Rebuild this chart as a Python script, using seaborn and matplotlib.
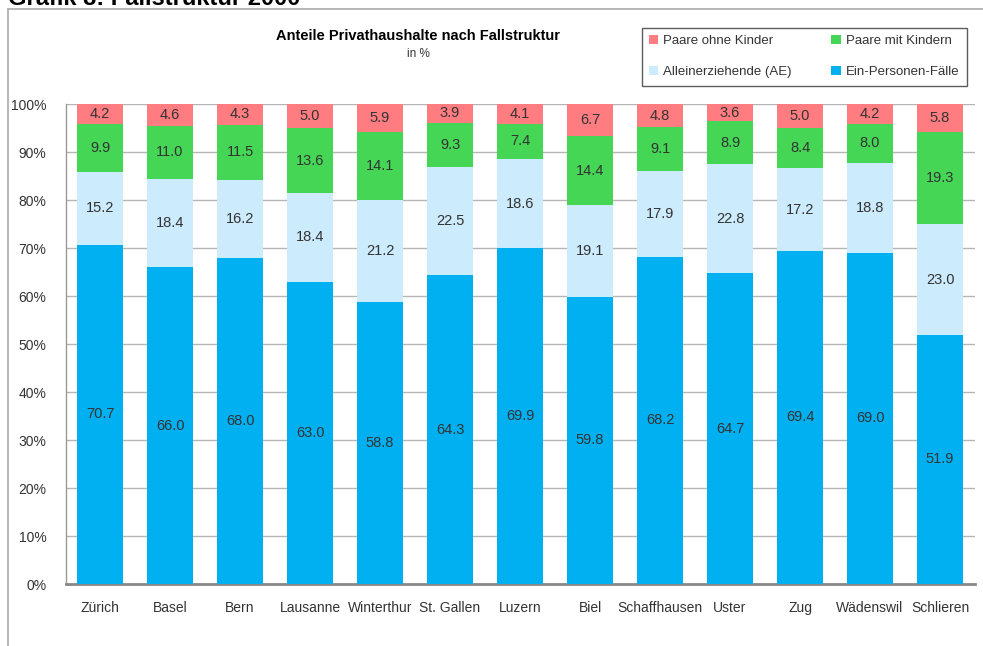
import matplotlib
matplotlib.use("Agg")
import matplotlib.pyplot as plt
import seaborn as sns
import pandas as pd
import numpy as np
from matplotlib.lines import Line2D
from matplotlib.patches import Patch

cities = ["Zürich", "Basel", "Bern", "Lausanne", "Winterthur", "St. Gallen", "Luzern",
          "Biel", "Schaffhausen", "Uster", "Zug", "Wädenswil", "Schlieren"]
ein_personen = [70.7, 66.0, 68.0, 63.0, 58.8, 64.3, 69.9, 59.8, 68.2, 64.7, 69.4, 69.0, 51.9]
alleinerziehende = [15.2, 18.4, 16.2, 18.4, 21.2, 22.5, 18.6, 19.1, 17.9, 22.8, 17.2, 18.8, 23.0]
paare_mit = [9.9, 11.0, 11.5, 13.6, 14.1, 9.3, 7.4, 14.4, 9.1, 8.9, 8.4, 8.0, 19.3]
paare_ohne = [4.2, 4.6, 4.3, 5.0, 5.9, 3.9, 4.1, 6.7, 4.8, 3.6, 5.0, 4.2, 5.8]

series_names = ["Ein-Personen-Fälle", "Alleinerziehende (AE)", "Paare mit Kindern", "Paare ohne Kinder"]
series_vals = [ein_personen, alleinerziehende, paare_mit, paare_ohne]
colors = ["#00B0F0", "#CCEBFD", "#45D655", "#FF7C80"]

sns.set_theme(style="white")
plt.rcParams["font.family"] = ["Liberation Sans", "DejaVu Sans"]

fig = plt.figure(figsize=(9.83, 6.46), dpi=100)
ax = fig.add_axes([66/983, 1-584/646, (975-66)/983, (584-104)/646])

vals = np.array(series_vals)
cum = np.cumsum(vals, axis=0)

# draw from top (largest cumulative) down so lower segments overlay
for k in range(len(series_names)-1, -1, -1):
    df = pd.DataFrame({"Stadt": cities, "Wert": cum[k]})
    sns.barplot(data=df, x="Stadt", y="Wert", color=colors[k], width=0.66,
                saturation=1, ax=ax, zorder=3, edgecolor="none")

for k in range(len(series_names)):
    for i in range(len(cities)):
        ax.text(i, cum[k][i] - vals[k][i]/2, f"{vals[k][i]:.1f}", ha="center", va="center",
                fontsize=10.5, color="#333333", zorder=5)

ax.set_xlim(-0.486, 12.5)
ax.set_ylim(0, 100)
ax.set_yticks(np.arange(0, 101, 10))
ax.set_yticklabels([f"{t}%" for t in range(0, 101, 10)], fontsize=10, color="#333333")
ax.tick_params(axis="y", length=0, pad=14)
ax.tick_params(axis="x", length=0, pad=12, labelsize=10, labelcolor="#333333")
ax.set_xlabel("")
ax.set_ylabel("")
ax.yaxis.grid(True, color="#b5b5b5", linewidth=1, zorder=0)
ax.set_axisbelow(True)
for s in ["top", "right"]:
    ax.spines[s].set_visible(False)
ax.spines["left"].set_color("#999999")
ax.spines["left"].set_linewidth(1)
ax.spines["bottom"].set_color("#888888")
ax.spines["bottom"].set_linewidth(2)

# titles
fig.text(418/983, 1-36/646, "Anteile Privathaushalte nach Fallstruktur", ha="center", va="center",
         fontsize=10.5, fontweight="bold", color="black")
fig.text(418/983, 1-54/646, "in %", ha="center", va="center", fontsize=8.5, color="#333333")
fig.text(8/983, 1-5/646, "Grafik 8: Fallstruktur 2000", ha="left", va="baseline",
         fontsize=17, fontweight="bold", color="black")

# outer frame
fig.add_artist(Line2D([8/983, 1], [1-9/646, 1-9/646], color="#aaaaaa", lw=1.2))
fig.add_artist(Line2D([8/983, 8/983], [0, 1-9/646], color="#aaaaaa", lw=1.2))

# legend
order = [3, 1, 2, 0]
handles = [Patch(facecolor=colors[k], edgecolor="none") for k in order]
labels = [series_names[k] for k in order]
leg = fig.legend(handles, labels, ncol=2, loc="upper left",
                 bbox_to_anchor=(635/983, 1-21/646), frameon=True, fancybox=False,
                 shadow=False, fontsize=9.5, handlelength=0.7, handleheight=0.7,
                 handletextpad=0.4, columnspacing=3.0, labelspacing=1.45,
                 borderpad=0.55, labelcolor="#333333")
leg.get_frame().set_edgecolor("#333333")
leg.get_frame().set_linewidth(1)

fig.savefig("out.png", dpi=100)
